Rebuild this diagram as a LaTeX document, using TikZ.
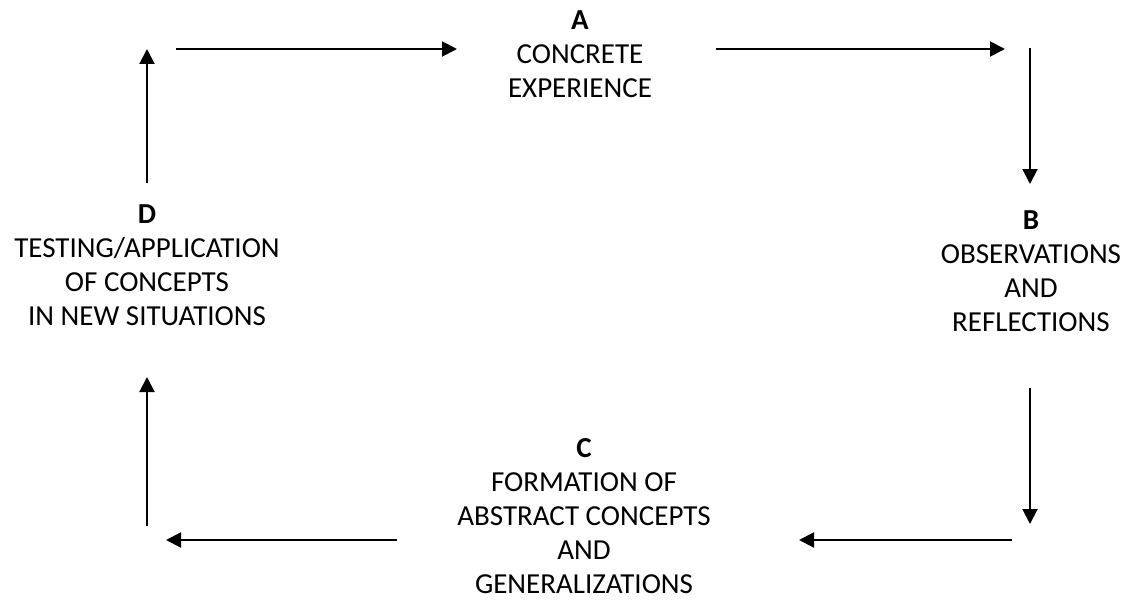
\documentclass[tikz,border=0pt]{standalone}
\usepackage{fontspec}
\setmainfont{Carlito}
\usepackage{xcolor}
\usepackage{tikz}
\usetikzlibrary{positioning,calc,arrows.meta}
\tikzset{
  stageText/.style={
    align=center,
    inner sep=0pt,
    font=\fontsize{29}{34}\selectfont
  },
  arrowLine/.style={
    -{Triangle[length=15pt,width=15pt]},
    line width=2pt
  }
}

\begin{document}
\begin{tikzpicture}[x=1pt,y=-1pt]
        \useasboundingbox (0,0) rectangle (1128,602);

        \node[stageText] (stageA) at (580,54) {\textbf{A}\\CONCRETE\\EXPERIENCE};
        \node[stageText] (stageB) at (1031,271) {\textbf{B}\\OBSERVATIONS\\AND\\REFLECTIONS};
        \node[stageText] (stageC) at (584,516) {\textbf{C}\\FORMATION OF\\ABSTRACT CONCEPTS\\AND\\GENERALIZATIONS};
        \node[stageText] (stageD) at (147,265) {\textbf{D}\\TESTING/APPLICATION\\OF CONCEPTS\\IN NEW SITUATIONS};

        % arrow ends
        \coordinate (dUpStart) at (147,183);
        \coordinate (dUpEnd) at (147,49);
        \coordinate (toAStart) at (176,49);
        \coordinate (toAEnd) at (457,49);
        \coordinate (fromAStart) at (716,49);
        \coordinate (fromAEnd) at (1005,49);
        \coordinate (toBStart) at (1030,48);
        \coordinate (toBEnd) at (1030,184);
        \coordinate (fromBStart) at (1030,388);
        \coordinate (fromBEnd) at (1030,524);
        \coordinate (toCStart) at (1012,540);
        \coordinate (toCEnd) at (799,540);
        \coordinate (fromCStart) at (397,540);
        \coordinate (fromCEnd) at (166,540);
        \coordinate (toDStart) at (147,526);
        \coordinate (toDEnd) at (147,377);

        \draw[arrowLine] (dUpStart) -- (dUpEnd);
        \draw[arrowLine] (toAStart) -- (toAEnd);
        \draw[arrowLine] (fromAStart) -- (fromAEnd);
        \draw[arrowLine] (toBStart) -- (toBEnd);
        \draw[arrowLine] (fromBStart) -- (fromBEnd);
        \draw[arrowLine] (toCStart) -- (toCEnd);
        \draw[arrowLine] (fromCStart) -- (fromCEnd);
        \draw[arrowLine] (toDStart) -- (toDEnd);
    \end{tikzpicture}
\end{document}
